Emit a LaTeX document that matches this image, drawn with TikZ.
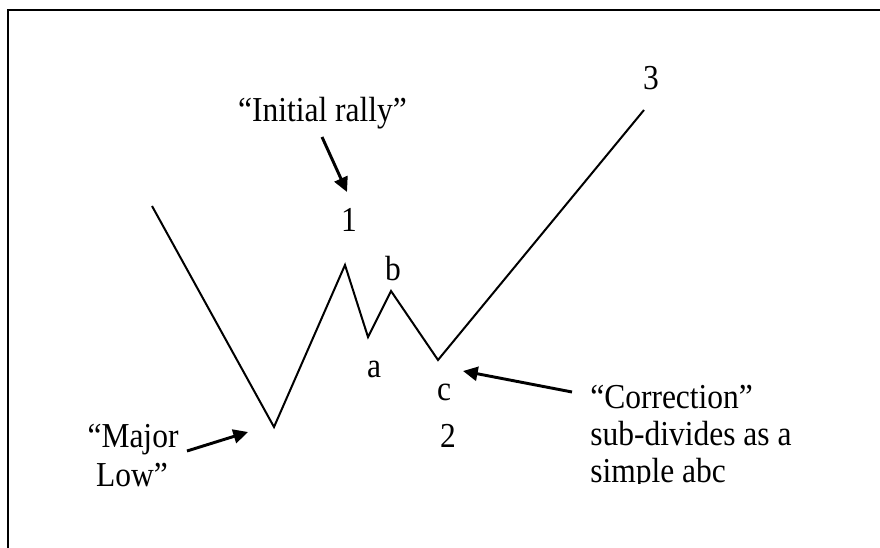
\documentclass[tikz,border=0pt]{standalone}
\usepackage{fontspec}
\setmainfont{Liberation Serif}
\newfontfamily\condfont[FakeStretch=0.9]{Liberation Serif}
\usetikzlibrary{arrows.meta}
\begin{document}
\begin{tikzpicture}[x=0.75pt,y=-0.75pt,
  lbl/.style={inner sep=0pt, anchor=base, font=\condfont\fontsize{26.25pt}{30pt}\selectfont},
  lblw/.style={lbl, anchor=base west},
  wave/.style={line width=1.5pt, line join=miter},
  pointer/.style={line width=2.2pt, -{Triangle[length=11pt,width=10.5pt]}},
  frame/.style={line width=2pt}]
\useasboundingbox (0,0) rectangle (880,548);
% frame (only top and left edges visible)
\coordinate (fbl) at (8,549);
\coordinate (ftl) at (8,10);
\coordinate (ftr) at (881,10);
\draw[frame] (fbl) -- (ftl) -- (ftr);
% wave points
\coordinate (w0) at (152,206);
\coordinate (wlow) at (274,427);
\coordinate (w1) at (345,265);
\coordinate (wa) at (368,337);
\coordinate (wb) at (391,291);
\coordinate (wc) at (438,360);
\coordinate (w3) at (644,110);
\draw[wave] (w0) -- (wlow) -- (w1) -- (wa) -- (wb) -- (wc) -- (w3);
% wave labels
\node[lbl] (l1) at (349,232) {1};
\node[lbl] (lb) at (393,281) {b};
\node[lbl] (la) at (374,377) {a};
\node[lbl] (lc) at (444,400) {c};
\node[lbl] (l2) at (448,447) {2};
\node[lbl] (l3) at (651,90) {3};
% annotations
\node[lbl] (rally) at (322.5,122) {“Initial rally”};
\node[lbl] (major) at (133,447) {“Major};
\node[lbl] (low) at (132,486) {Low”};
\node[lblw] (corr1) at (590,408) {“Correction”};
\node[lblw] (corr2) at (590,445) {sub-divides as a};
\begin{scope}
  \clip (580,455) rectangle (800,483.5);
  \node[lblw] (corr3) at (590,482) {simple abc};
\end{scope}
% pointers
\coordinate (rallytail) at (322,137);
\coordinate (rallyhead) at (347,192);
\coordinate (majortail) at (187,451);
\coordinate (majorhead) at (248,432);
\coordinate (corrtail) at (572,392);
\coordinate (corrhead) at (463,371);
\draw[pointer] (rallytail) -- (rallyhead);
\draw[pointer] (majortail) -- (majorhead);
\draw[pointer] (corrtail) -- (corrhead);
\end{tikzpicture}
\end{document}
